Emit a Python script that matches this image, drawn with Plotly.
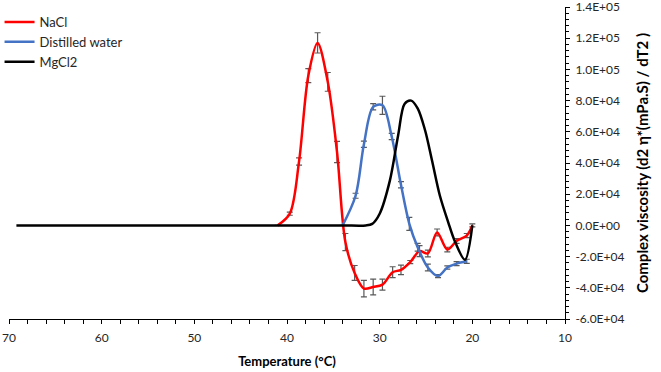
import plotly.graph_objects as go

# ---- data ----
nacl_T = [41.0, 39.7, 38.7, 37.7, 36.7, 35.6, 34.6, 33.7, 32.7, 31.7, 30.7, 29.7,
          28.6, 27.7, 26.7, 25.7, 24.8, 23.8, 22.7, 21.7, 20.6, 20.0]
nacl_V = [0, 7500, 41000, 96000, 117000, 92000, 47000, -10700, -30500, -40500,
          -39500, -38000, -30000, -28500, -23500, -16500, -18000, -4500, -15500,
          -10000, -6500, 0]
nacl_err = [None, 1000, 2300, 4500, 6500, 6000, 6800, 5500, 4800, 5300, 5000, 3500,
            3500, 3000, 1000, 3500, 2200, 2200, 1500, 1500, 1300, 1000]

water_T = [34.0, 32.6, 31.7, 30.7, 29.7, 28.7, 27.7, 26.8, 25.9, 24.8, 23.7, 22.7,
           21.7, 20.6]
water_V = [0, 19000, 52000, 76000, 77000, 57000, 26000, 1000, -14000, -27000,
           -32500, -27000, -24500, -23000]
water_err = [None, 1600, 2000, 2000, 5800, 2000, 2000, 4200, 2500, 2200, 1000, 1000,
             1300, 1300]

mg_T = [69.2, 60, 50, 40, 34, 31.5, 30.8, 30.0, 28.9, 28.0, 27.3, 26.6, 25.9, 25.1,
        24.35, 23.5, 22.6, 21.9, 20.8, 20.0]
mg_V = [0, 0, 0, 0, 0, 0, 1000, 7500, 28700, 58000, 78000, 80000, 75000, 61000,
        41600, 19000, 2000, -10000, -22000, 0]

x_ticks = [70, 60, 50, 40, 30, 20, 10]
y_ticks = list(range(-60000, 140001, 20000))
y_ticktext = [f"{v:.1E}" for v in y_ticks]

err_style = dict(type="data", color="#595959", thickness=1.2, width=3)

fig = go.Figure()
fig.add_trace(go.Scatter(x=nacl_T, y=nacl_V, name="NaCl", mode="lines",
                         line=dict(color="#FF0000", width=2.5, shape="spline", smoothing=0.9),
                         error_y=dict(array=nacl_err, **err_style)))
fig.add_trace(go.Scatter(x=water_T, y=water_V, name="Distilled water", mode="lines",
                         line=dict(color="#4472C4", width=2.5, shape="spline", smoothing=0.9),
                         error_y=dict(array=water_err, **err_style)))
fig.add_trace(go.Scatter(x=mg_T, y=mg_V, name="MgCl2", mode="lines",
                         line=dict(color="#000000", width=2.5, shape="spline", smoothing=0.9)))

axis_font = dict(family="Lato", size=12, color="#262626")
fig.update_layout(
    width=661, height=372,
    margin=dict(l=9, r=96, t=7, b=53, autoexpand=False),
    plot_bgcolor="white", paper_bgcolor="white",
    font=dict(family="Lato", color="#000000"),
    legend=dict(x=-0.017, y=1.0, xanchor="left", yanchor="top",
                font=dict(family="Lato", size=13, color="#262626"),
                bgcolor="rgba(0,0,0,0)", itemwidth=30),
    xaxis=dict(range=[70, 10], tickvals=x_ticks, ticks="outside", ticklen=4,
               tickcolor="black", tickfont=axis_font, ticklabelstandoff=4,
               automargin=False,
               minor=dict(dtick=2, ticks="outside", ticklen=4, tickcolor="black"),
               showline=True, linecolor="black", linewidth=1,
               showgrid=False, zeroline=False,
               title=dict(text="<b>Temperature (°C)</b>", font=dict(family="Lato", size=13),
                          standoff=12)),
    yaxis=dict(side="right", range=[-60000, 140000], tickvals=y_ticks,
               ticktext=y_ticktext, ticks="outside", ticklen=4, tickcolor="black",
               tickfont=axis_font, ticklabeloverflow="allow", ticklabelstandoff=3,
               automargin=False,
               minor=dict(dtick=4000, ticks="outside", ticklen=3, tickcolor="black"),
               showline=True, linecolor="black", linewidth=1,
               showgrid=False, zeroline=False,
               title=dict(text="<b>Complex viscosity (d2 η*(mPa.S) / dT2 )</b>",
                          font=dict(family="Lato", size=15), standoff=14)),
)

fig.write_html("out.html")
